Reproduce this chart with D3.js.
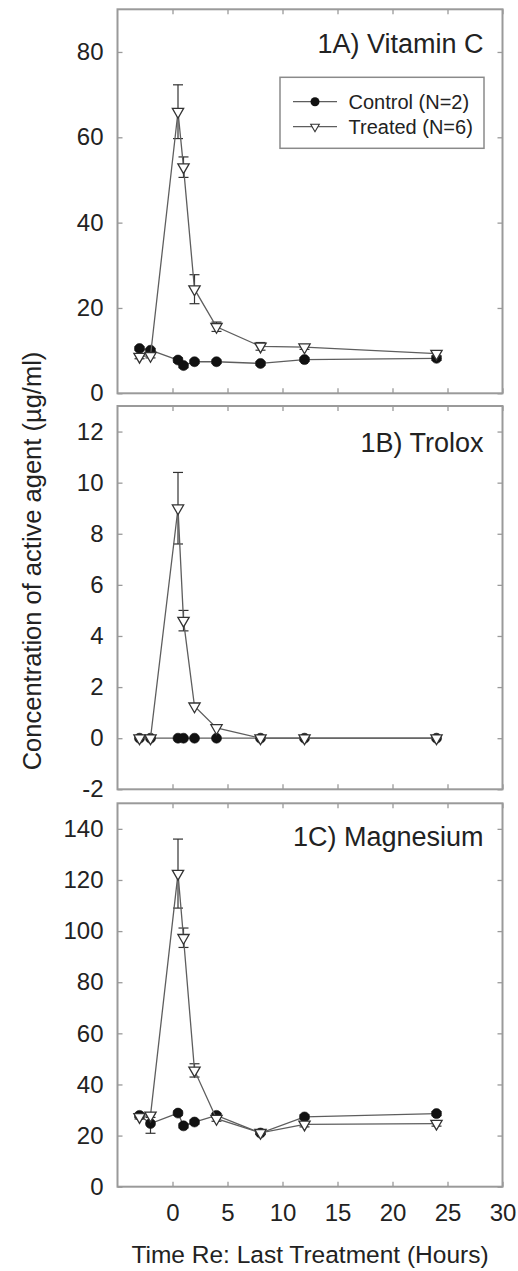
<!DOCTYPE html>
<html>
<head>
<meta charset="utf-8">
<script src="https://cdn.jsdelivr.net/npm/d3@7"></script>
<style>
  html, body { margin: 0; padding: 0; background: #fff; }
  svg { display: block; font-family: "Liberation Sans", Arial, sans-serif; }
</style>
</head>
<body>
<svg id="chart" width="518" height="1271"></svg>
<script>
// ---- Data ----
const times = [-3, -2, 0.5, 1, 2, 4, 8, 12, 24];

const vitCControl   = [10.5, 10.1, 7.8, 6.5, 7.4, 7.4, 7.0, 7.9, 8.2];
const vitCControlSE = [0.4, 0.4, 0.5, 0.5, 0.4, 0.4, 0.4, 0.4, 0.5];
const vitCTreated   = [8.6, 8.8, 66.0, 53.0, 24.4, 15.6, 11.0, 10.8, 9.3];
const vitCTreatedSE = [0.5, 0.5, 6.3, 2.4, 3.4, 1.1, 0.9, 0.5, 0.5];

const troloxControl   = [0, 0, 0, 0, 0, 0, 0, 0, 0];
const troloxControlSE = [0, 0, 0, 0, 0, 0, 0, 0, 0];
const troloxTreated   = [0, 0, 9.0, 4.6, 1.25, 0.4, 0, 0, 0];
const troloxTreatedSE = [0, 0, 1.4, 0.4, 0.1, 0.05, 0, 0, 0];

const mgControl   = [27.9, 24.7, 28.8, 23.8, 25.3, 27.9, 21.0, 27.3, 28.6];
const mgControlSE = [0.8, 3.8, 0.8, 0.8, 0.8, 0.8, 0.5, 0.8, 0.8];
const mgTreated   = [27.3, 27.9, 122.5, 97.4, 45.5, 26.6, 21.1, 24.4, 24.7];
const mgTreatedSE = [0.8, 0.8, 13.5, 3.8, 2.6, 1.0, 0.5, 1.0, 1.0];

const panelTitles = ["1A) Vitamin C", "1B) Trolox", "1C) Magnesium"];
const yDomains = [[0, 90], [-2, 13], [0, 150]];
const yTicks = [[0, 20, 40, 60, 80], [-2, 0, 2, 4, 6, 8, 10, 12], [0, 20, 40, 60, 80, 100, 120, 140]];
const xTicks = [0, 5, 10, 15, 20, 25, 30];
const legendLabels = ["Control (N=2)", "Treated (N=6)"];
const xLabel = "Time Re: Last Treatment (Hours)";
const yLabel = "Concentration of active agent (\u00b5g/ml)";

// ---- Layout ----
const svg = d3.select("#chart");
const plotLeft = 117.5, plotRight = 502.5;
const panelBox = [[9.3, 393.3], [406, 789.3], [803.3, 1186.7]];
const frameColor = "#9a9a9a";
const lineColor = "#5e5e5e";
const textColor = "#222";

const x = d3.scaleLinear().domain([-5, 30]).range([plotLeft, plotRight]);

const panels = [
  { control: vitCControl, controlSE: vitCControlSE, treated: vitCTreated, treatedSE: vitCTreatedSE, titleY: 53.3 },
  { control: troloxControl, controlSE: troloxControlSE, treated: troloxTreated, treatedSE: troloxTreatedSE, titleY: 451.7 },
  { control: mgControl, controlSE: mgControlSE, treated: mgTreated, treatedSE: mgTreatedSE, titleY: 846 }
];

const triangle = d3.symbol().type(d3.symbolTriangle).size(55);
const triangleSmall = d3.symbol().type(d3.symbolTriangle).size(32);

panels.forEach((p, i) => {
  const [top, bottom] = panelBox[i];
  const y = d3.scaleLinear().domain(yDomains[i]).range([bottom, top]);
  const g = svg.append("g");

  // axes (inward ticks on all four sides)
  const styleAxis = sel => {
    sel.select(".domain").remove();
    sel.selectAll(".tick line").attr("stroke", frameColor).attr("stroke-width", 1.3);
    sel.selectAll(".tick text").attr("fill", textColor).attr("font-size", 24)
       .attr("font-family", "'Liberation Sans', Arial, sans-serif");
  };
  g.append("g").attr("transform", `translate(0,${bottom})`)
    .call(d3.axisBottom(x).tickValues(xTicks).tickSize(-5).tickPadding(17)
      .tickFormat(i === 2 ? d3.format("d") : () => ""))
    .call(styleAxis);
  g.append("g").attr("transform", `translate(0,${top})`)
    .call(d3.axisTop(x).tickValues(xTicks).tickSize(-5).tickFormat(() => ""))
    .call(styleAxis);
  g.append("g").attr("transform", `translate(${plotLeft},0)`)
    .call(d3.axisLeft(y).tickValues(yTicks[i]).tickSize(-5).tickPadding(14).tickFormat(d3.format("d")))
    .call(styleAxis);
  g.append("g").attr("transform", `translate(${plotRight},0)`)
    .call(d3.axisRight(y).tickValues(yTicks[i]).tickSize(-5).tickFormat(() => ""))
    .call(styleAxis);
  g.selectAll(".tick text").text(function() { return this.textContent.replace("\u2212", "-"); });

  // frame
  g.append("rect")
    .attr("x", plotLeft).attr("y", top)
    .attr("width", plotRight - plotLeft).attr("height", bottom - top)
    .attr("fill", "none").attr("stroke", frameColor).attr("stroke-width", 2);

  const line = d3.line().x(d => x(d.t)).y(d => y(d.v));
  const ctrl = times.map((t, k) => ({ t, v: p.control[k], se: p.controlSE[k] }));
  const trt = times.map((t, k) => ({ t, v: p.treated[k], se: p.treatedSE[k] }));

  const drawErr = (data) => {
    const eg = g.append("g").attr("stroke", "#333").attr("stroke-width", 1.2);
    data.filter(d => d.se > 0.2).forEach(d => {
      const cx = x(d.t), y1 = y(d.v + d.se), y0 = y(d.v - d.se);
      eg.append("line").attr("x1", cx).attr("x2", cx).attr("y1", y1).attr("y2", y0);
      eg.append("line").attr("x1", cx - 5).attr("x2", cx + 5).attr("y1", y1).attr("y2", y1);
      eg.append("line").attr("x1", cx - 5).attr("x2", cx + 5).attr("y1", y0).attr("y2", y0);
    });
  };

  // control series
  drawErr(ctrl);
  g.append("path").datum(ctrl).attr("d", line)
    .attr("fill", "none").attr("stroke", lineColor).attr("stroke-width", 1.3);
  g.selectAll(null).data(ctrl).enter().append("circle")
    .attr("cx", d => x(d.t)).attr("cy", d => y(d.v)).attr("r", 5)
    .attr("fill", "#111").attr("stroke", "#111").attr("stroke-width", 0.6);

  // treated series
  drawErr(trt);
  g.append("path").datum(trt).attr("d", line)
    .attr("fill", "none").attr("stroke", lineColor).attr("stroke-width", 1.3);
  g.selectAll(null).data(trt).enter().append("path")
    .attr("d", triangle)
    .attr("transform", d => `translate(${x(d.t)},${y(d.v)}) rotate(180)`)
    .attr("fill", "#fff").attr("stroke", "#333").attr("stroke-width", 1.3);

  // panel title
  g.append("text").attr("x", 483.5).attr("y", p.titleY)
    .attr("text-anchor", "end").attr("font-size", 27).attr("fill", textColor)
    .text(panelTitles[i]);

  // legend in first panel
  if (i === 0) {
    const lg = g.append("g");
    lg.append("rect").attr("x", 280).attr("y", 77.3).attr("width", 204).attr("height", 71)
      .attr("fill", "#fff").attr("stroke", "#8a8a8a").attr("stroke-width", 1.5);
    const rowsY = [101.7, 126.7];
    legendLabels.forEach((lab, k) => {
      const ly = rowsY[k];
      lg.append("line").attr("x1", 293).attr("x2", 337).attr("y1", ly).attr("y2", ly)
        .attr("stroke", lineColor).attr("stroke-width", 1.3);
      if (k === 0) {
        lg.append("circle").attr("cx", 315).attr("cy", ly).attr("r", 4.5).attr("fill", "#111");
      } else {
        lg.append("path").attr("d", triangleSmall)
          .attr("transform", `translate(315,${ly}) rotate(180)`)
          .attr("fill", "#fff").attr("stroke", "#333").attr("stroke-width", 1.1);
      }
      lg.append("text").attr("x", 348.5).attr("y", ly + 7.5)
        .attr("font-size", 20).attr("fill", textColor).text(lab);
    });
  }
});

// axis titles
svg.append("text").attr("x", 310).attr("y", 1263)
  .attr("text-anchor", "middle").attr("font-size", 24.5).attr("fill", textColor)
  .text(xLabel);
svg.append("text").attr("transform", "translate(41,561) rotate(-90)")
  .attr("text-anchor", "middle").attr("font-size", 25.5).attr("fill", textColor)
  .text(yLabel);
</script>
</body>
</html>
